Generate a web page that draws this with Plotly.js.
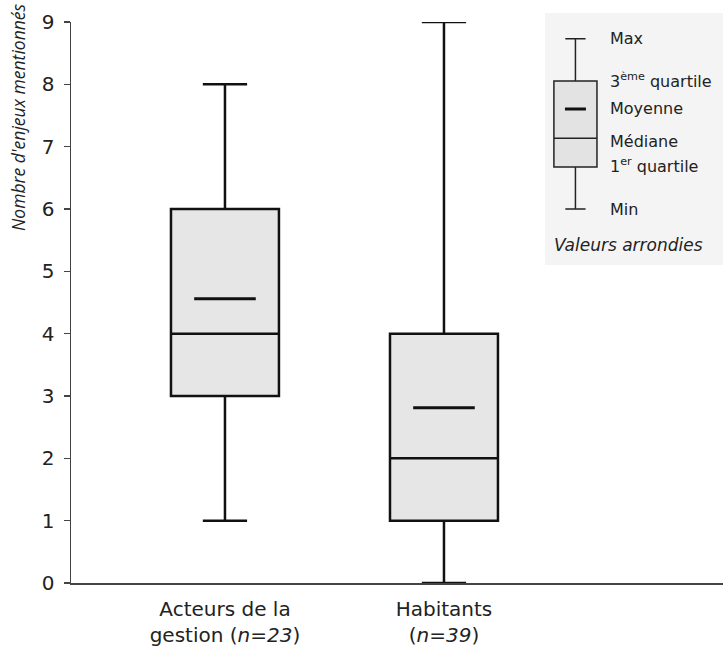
<!DOCTYPE html>
<html>
<head>
<meta charset="utf-8">
<script src="https://cdn.plot.ly/plotly-3.0.1.min.js"></script>
<style>html,body{margin:0;padding:0;background:#fff;}#chart{width:723px;height:649px;}</style>
</head>
<body>
<div id="chart"></div>
<script>
// Data
const categories = ["Acteurs de la<br>gestion (<i>n=23</i>)", "Habitants<br>(<i>n=39</i>)"];
const catPos = [0, 1];
const minVals = [1, 0];
const q1Vals = [3, 1];
const medianVals = [4, 2];
const q3Vals = [6, 4];
const maxVals = [8, 9];
const meanVals = [4.56, 2.81];
const yTicks = [0, 1, 2, 3, 4, 5, 6, 7, 8, 9];

// Schematic key values (arbitrary units)
const keyMin = [3.33], keyQ1 = [4.83], keyMedian = [5.86], keyMean = [6.9], keyQ3 = [7.9], keyMax = [9.4];
const keyLabels = ["Max", "3<sup>ème</sup> quartile", "Moyenne", "Médiane", "1<sup>er</sup> quartile", "Min"];
const keyLabelY = [9.4, 7.9, 6.9, 5.75, 4.9, 3.33];

const font = "DejaVu Sans, sans-serif";

const traces = [
  {
    type: "box", x: catPos, q1: q1Vals, median: medianVals, q3: q3Vals,
    lowerfence: minVals, upperfence: maxVals,
    width: 0.493, whiskerwidth: 0.41,
    fillcolor: "#e6e6e6", line: {color: "#111", width: 2.5},
    boxpoints: false, hoverinfo: "skip", showlegend: false
  },
  {
    type: "scatter", mode: "markers", x: catPos, y: meanVals,
    marker: {symbol: "line-ew", size: 44, color: "#111", line: {color: "#111", width: 3}},
    hoverinfo: "skip", showlegend: false
  },
  {
    type: "box", x: [1.71], q1: keyQ1, median: keyMedian, q3: keyQ3,
    lowerfence: keyMin, upperfence: keyMax, xaxis: "x2", yaxis: "y2",
    width: 2.42, whiskerwidth: 0.47,
    fillcolor: "#e3e3e3", line: {color: "#222", width: 1.5},
    boxpoints: false, hoverinfo: "skip", showlegend: false
  },
  {
    type: "scatter", mode: "markers", x: [1.71], y: keyMean, xaxis: "x2", yaxis: "y2",
    marker: {symbol: "line-ew", size: 15, color: "#111", line: {color: "#111", width: 3}},
    hoverinfo: "skip", showlegend: false
  }
];

const annotations = keyLabels.map((t, i) => ({
  xref: "x2", yref: "y2", x: 3.55, y: keyLabelY[i], text: t, showarrow: false,
  xanchor: "left", yanchor: "middle", font: {family: font, size: 16, color: "#222"}
}));
annotations.push({
  xref: "x2", yref: "y2", x: 0.4, y: 2.05, text: "<i>Valeurs arrondies</i>", showarrow: false,
  xanchor: "left", yanchor: "middle", font: {family: font, size: 17, color: "#222"}
});
annotations.push({
  xref: "paper", yref: "paper", x: -0.0813, y: 0.8307, textangle: -90,
  text: "<i>Nombre d'enjeux mentionnés</i>", showarrow: false,
  xanchor: "center", yanchor: "middle", font: {family: "Open Sans, sans-serif", size: 17.5, color: "#222"}
});

const layout = {
  width: 723, height: 649,
  margin: {l: 71, r: 0, t: 22, b: 66},
  paper_bgcolor: "#fff", plot_bgcolor: "rgba(0,0,0,0)",
  font: {family: font, size: 20, color: "#222"},
  xaxis: {
    range: [-0.703, 2.274], tickvals: catPos, ticktext: categories,
    showgrid: false, zeroline: false, showline: true, linecolor: "#444", linewidth: 1.5,
    ticks: "", ticklabelstandoff: 7, fixedrange: true, tickfont: {family: font, size: 20, color: "#222"}
  },
  yaxis: {
    range: [0, 9], tickvals: yTicks, showgrid: false, zeroline: false,
    showline: true, linecolor: "#444", linewidth: 1.5,
    ticks: "outside", ticklen: 6, tickcolor: "#444", tickwidth: 1.2,
    ticklabelstandoff: 5, tickfont: {family: font, size: 20, color: "#222"}
  },
  xaxis2: {domain: [0.727, 1], range: [0, 10], visible: false, fixedrange: true},
  yaxis2: {domain: [0.5, 1], range: [0, 10], visible: false, fixedrange: true, anchor: "x2"},
  shapes: [{
    type: "rect", xref: "paper", yref: "paper", x0: 0.727, x1: 1.0, y0: 0.567, y1: 1.016,
    fillcolor: "#f4f4f4", line: {width: 0}, layer: "below"
  }],
  annotations: annotations,
  showlegend: false
};

Plotly.newPlot("chart", traces, layout, {displayModeBar: false, staticPlot: true});
</script>
</body>
</html>
